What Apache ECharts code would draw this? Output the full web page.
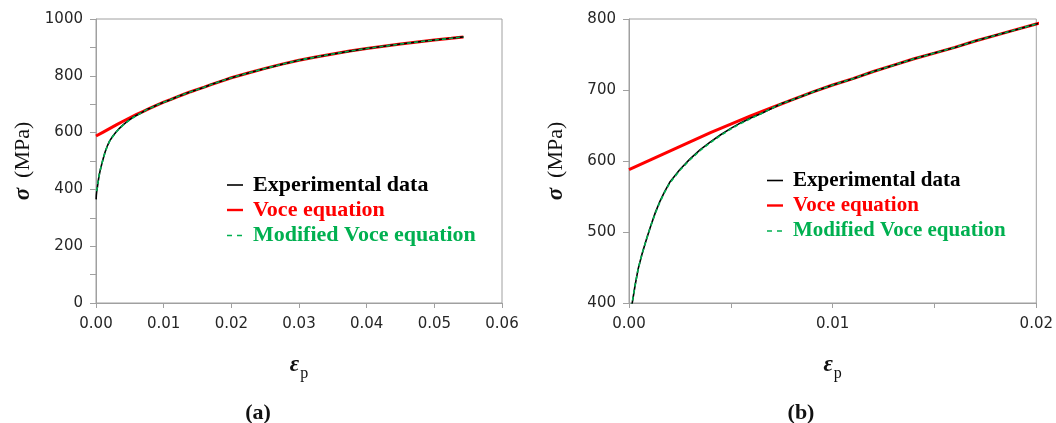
<!DOCTYPE html>
<html>
<head>
<meta charset="utf-8">
<script src="https://cdn.jsdelivr.net/npm/echarts@6/dist/echarts.min.js"></script>
<style>
html,body{margin:0;padding:0;background:#fff;}
#c{width:1056px;height:423px;}
</style>
</head>
<body>
<div id="c"></div>
<script>
// ---- data (plastic strain, true stress MPa) ----
const expStrain = [0.00002,0.00005,0.0001,0.00017,0.0003,0.00045,0.00064,0.00085,0.00105,0.0013,0.0015,0.00175,0.002,0.0025,0.003,0.0035,0.004,0.0045,0.005,0.0055,0.006,0.0065,0.007,0.0075,0.008,0.009,0.010,0.011,0.012,0.013,0.014,0.015,0.016,0.017,0.018,0.019,0.020,0.0225,0.025,0.0275,0.030,0.0325,0.035,0.0375,0.040,0.0425,0.045,0.0475,0.050,0.0525,0.0543];
const expStress = [365,380,392,402,425,448,469,489,507,528,542,557,570,588,603,616,627,637,646,654,661,667,674,681,686,697,707,716,726,735,744,752,760,769,777,785,793,810,826,841,855,866,877,887,896,904,912,919,926,932,937];

const voceStrain = [0,0.001,0.002,0.003,0.004,0.005,0.006,0.007,0.008,0.009,0.010,0.011,0.012,0.013,0.014,0.015,0.016,0.017,0.018,0.019,0.020,0.0225,0.025,0.0275,0.030,0.0325,0.035,0.0375,0.040,0.0425,0.045,0.0475,0.050,0.0525,0.0543];
const voceStress = [588,601,614,627,640,652,664,675,686,697,707,716,726,735,744,752,760,769,777,785,793,810,826,841,855,866,877,887,896,904,912,919,926,932,937];

const modStrain = [0.00008,0.00017,0.0003,0.00045,0.00064,0.00085,0.00105,0.0013,0.0015,0.00175,0.002,0.0025,0.003,0.0035,0.004,0.0045,0.005,0.0055,0.006,0.0065,0.007,0.0075,0.008,0.009,0.010,0.011,0.012,0.013,0.014,0.015,0.016,0.017,0.018,0.019,0.020,0.0225,0.025,0.0275,0.030,0.0325,0.035,0.0375,0.040,0.0425,0.045,0.0475,0.050,0.0525,0.0543];
const modStress = [394,403,425,448,469,489,507,527,541,556,569,587,602,615,626,636,645,653,660,667,674,681,686,697,707,716,726,735,744,752,760,769,777,785,793,810,826,841,855,866,877,887,896,904,912,919,926,932,937];

const seriesNames = ['Experimental data','Voce equation','Modified Voce equation'];
const yLabelsA = ['0','200','400','600','800','1000'];
const xLabelsA = ['0.00','0.01','0.02','0.03','0.04','0.05','0.06'];
const yLabelsB = ['400','500','600','700','800'];
const xLabelsB = ['0.00','0.01','0.02'];
const captions = ['a','b'];

const zip = (xs, ys) => xs.map((x, i) => [x, ys[i]]);

const SERIF = 'Liberation Serif';
const SANS = 'DejaVu Sans';
const AX = '#a0a0a0';
const LBL = '#262626';
const COLORS = ['#000000', '#ff0000', '#00b050'];
// legend glyphs: solid thin, solid thick, dashed
const ICONS = [
  'path://M0,1H16V2.6H0Z',
  'path://M0,0.6H16V3H0Z',
  'path://M0,1H5V2.6H0Z M10,1H15V2.6H10Z M16,0H16.01V0.01H16Z'
];

function fmtX(list){
  return function(v){
    const s = (Math.round(v*1000)/1000).toFixed(2);
    return (list.indexOf(s) >= 0 && Math.abs(v*100 - Math.round(v*100)) < 1e-6) ? s : '';
  };
}
function fmtY(list){
  return function(v){ const s = String(Math.round(v)); return list.indexOf(s) >= 0 ? s : ''; };
}

function xAxis(grid, max, interval, labels){
  return {
    type:'value', gridIndex:grid, min:0, max:max, interval:interval,
    axisLine:{show:true, lineStyle:{color:AX, width:1}},
    axisTick:{show:true, length:5, lineStyle:{color:AX}},
    splitLine:{show:false},
    axisLabel:{formatter:fmtX(labels), fontFamily:SANS, fontSize:15, color:LBL, margin:14, showMaxLabel:true, showMinLabel:true},
    name:'{e|ε}{p|p}', nameLocation:'middle', nameGap:50,
    nameTextStyle:{rich:{
      e:{fontFamily:SERIF, fontSize:23, fontWeight:'bold', fontStyle:'italic', color:'#111', verticalAlign:'bottom', lineHeight:24},
      p:{fontFamily:SERIF, fontSize:16, color:'#111', verticalAlign:'bottom', lineHeight:24, padding:[0,0,-5,1]}
    }}
  };
}
function yAxis(grid, min, max, interval, labels){
  return {
    type:'value', gridIndex:grid, min:min, max:max, interval:interval,
    axisLine:{show:true, lineStyle:{color:AX, width:1}},
    axisTick:{show:true, length:6, lineStyle:{color:AX}},
    splitLine:{show:false},
    axisLabel:{formatter:fmtY(labels), fontFamily:SANS, fontSize:15, color:LBL, margin:13},
    name:'{s|σ}   {m|(MPa)}', nameLocation:'middle', nameGap:61, nameRotate:90,
    nameTextStyle:{rich:{
      s:{fontFamily:SERIF, fontSize:23, fontWeight:'bold', fontStyle:'italic', color:'#111'},
      m:{fontFamily:SERIF, fontSize:22, color:'#111'}
    }}
  };
}

function seriesFor(grid){
  return [
    {name:seriesNames[1], type:'line', xAxisIndex:grid, yAxisIndex:grid, data:zip(voceStrain, voceStress),
     symbol:'none', lineStyle:{color:COLORS[1], width:3}, itemStyle:{color:COLORS[1]}, z:2, clip:true, silent:true, animation:false},
    {name:seriesNames[0], type:'line', xAxisIndex:grid, yAxisIndex:grid, data:zip(expStrain, expStress),
     symbol:'none', lineStyle:{color:COLORS[0], width:1.6}, itemStyle:{color:COLORS[0]}, z:3, clip:true, silent:true, animation:false},
    {name:seriesNames[2], type:'line', xAxisIndex:grid, yAxisIndex:grid, data:zip(modStrain, modStress),
     symbol:'none', lineStyle:{color:COLORS[2], width:1.6, type:[4,3]}, itemStyle:{color:COLORS[2]}, z:4, clip:true, silent:true, animation:false}
  ];
}

function legendFor(left, top, fs){
  return {
    orient:'vertical', left:left, top:top, padding:0, itemWidth:16, itemHeight:3, itemGap:25-fs,
    selectedMode:false,
    textStyle:{fontFamily:SERIF, fontSize:fs, fontWeight:'bold', lineHeight:fs, padding:[0,0,0,5]},
    data: seriesNames.map((n, i) => ({name:n, icon:ICONS[i], itemStyle:{color:COLORS[i], borderWidth:0}, lineStyle:{width:0, opacity:0}, textStyle:{color:COLORS[i]}}))
  };
}

const chart = echarts.init(document.getElementById('c'), null, {renderer:'canvas'});
chart.setOption({
  animation:false,
  backgroundColor:'#ffffff',
  grid:[
    {left:96, right:1056-502, top:19, bottom:423-303, show:true, borderColor:AX, borderWidth:1, containLabel:false},
    {left:629, right:1056-1037, top:19, bottom:423-303, show:true, borderColor:AX, borderWidth:1, containLabel:false}
  ],
  xAxis:[xAxis(0, 0.06, 0.01, xLabelsA), xAxis(1, 0.02, 0.005, xLabelsB)],
  yAxis:[yAxis(0, 0, 1000, 100, yLabelsA), yAxis(1, 400, 800, 100, yLabelsB)],
  legend:[legendFor(227, 174, 22), legendFor(767, 170, 21)],
  title: captions.map((c, i) => ({
    text:'{n|(}{b|' + c + '}{n|)}', left: i === 0 ? 253 : 796, top:397, textAlign:'center',
    textStyle:{rich:{
      n:{fontFamily:SERIF, fontSize:22, color:'#111'},
      b:{fontFamily:SERIF, fontSize:22, fontWeight:'bold', color:'#111'}
    }}
  })),
  series: seriesFor(0).concat(seriesFor(1))
});
</script>
</body>
</html>
